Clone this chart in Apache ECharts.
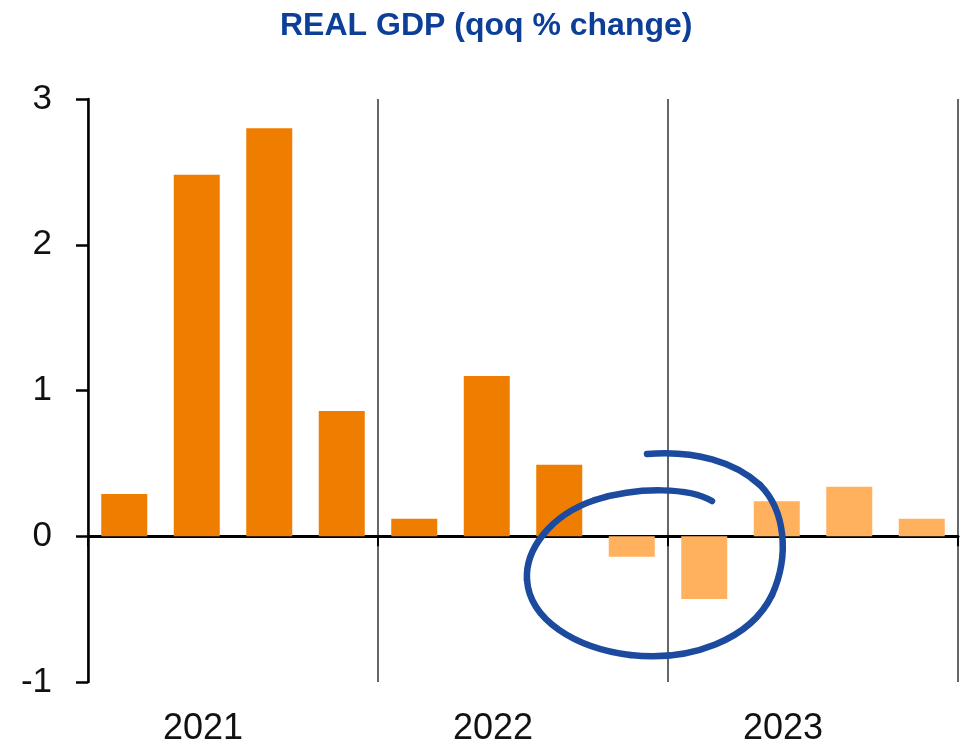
<!DOCTYPE html>
<html>
<head>
<meta charset="utf-8">
<script src="https://cdn.jsdelivr.net/npm/echarts@6/dist/echarts.min.js"></script>
<style>
  html, body { margin: 0; padding: 0; background: #fff; }
  #chart { width: 960px; height: 747px; }
</style>
</head>
<body>
<div id="chart"></div>
<script>
// Quarterly real GDP growth, quarter-on-quarter %
const quarters = ['2021Q1','2021Q2','2021Q3','2021Q4','2022Q1','2022Q2','2022Q3','2022Q4','2023Q1','2023Q2','2023Q3','2023Q4'];
const years = ['2021', '2022', '2023'];
// outturns (first seven quarters) and projections (remaining five)
const actualGrowth = [0.29, 2.48, 2.80, 0.86, 0.12, 1.10, 0.49];
const projectedGrowth = [-0.14, -0.43, 0.24, 0.34, 0.12];
const yTicks = { min: -1, max: 3, step: 1 };

const actualColor = '#EF7D00';
const projectedColor = '#FFB15E';

const actualSeries = quarters.map((q, i) => i < actualGrowth.length ? actualGrowth[i] : '-');
const projectedSeries = quarters.map((q, i) => i >= actualGrowth.length ? projectedGrowth[i - actualGrowth.length] : '-');

// hand-drawn loop round the contraction quarters, as cubic segments [x1,y1,cx1,cy1,cx2,cy2,x2,y2]
const loopSegments = [
  [712, 501, 690, 488, 640, 486, 595, 500],
  [595, 500, 550, 515, 525, 550, 527, 580],
  [527, 580, 530, 620, 575, 648, 630, 655],
  [630, 655, 690, 662, 750, 640, 772, 595],
  [772, 595, 790, 555, 785, 510, 760, 485],
  [760, 485, 735, 462, 695, 450, 647, 454]
];

const chart = echarts.init(document.getElementById('chart'), null, { renderer: 'canvas' });

const font = '"Liberation Sans", Arial, sans-serif';

chart.setOption({
  animation: false,
  backgroundColor: '#ffffff',
  title: {
    text: 'REAL GDP (qoq % change)',
    left: 275,
    top: 5,
    textStyle: { fontFamily: font, fontSize: 32, fontWeight: 'bold', color: '#0D3F99' }
  },
  grid: { left: 88, right: 2, top: 99, bottom: 65, containLabel: false },
  xAxis: [
    {
      type: 'category',
      data: quarters,
      position: 'top',
      axisLine: { onZero: true, lineStyle: { color: '#000', width: 3 } },
      axisTick: { show: true, inside: true, interval: 3, length: 10, lineStyle: { color: '#000', width: 2 } },
      axisLabel: { show: false },
      splitLine: { show: false }
    },
    {
      type: 'category',
      data: years,
      position: 'bottom',
      axisLine: { show: false },
      axisTick: { show: false },
      axisLabel: {
        fontFamily: font, fontSize: 36, color: '#111',
        margin: 29, padding: [0, 60, 0, 0]
      },
      splitLine: { show: true, lineStyle: { color: '#333', width: 1.5 } }
    }
  ],
  yAxis: {
    type: 'value',
    min: yTicks.min,
    max: yTicks.max,
    interval: yTicks.step,
    axisLine: { show: true, lineStyle: { color: '#000', width: 2.5 } },
    axisTick: { show: true, length: 12, lineStyle: { color: '#000', width: 2.5 } },
    axisLabel: { fontFamily: font, fontSize: 35, color: '#111', margin: 36 },
    splitLine: { show: false }
  },
  series: [
    {
      name: 'Outturn',
      type: 'bar',
      xAxisIndex: 0,
      data: actualSeries,
      barWidth: 46,
      barGap: '-100%',
      itemStyle: { color: actualColor }
    },
    {
      name: 'Projection',
      type: 'bar',
      xAxisIndex: 0,
      data: projectedSeries,
      barWidth: 46,
      barGap: '-100%',
      itemStyle: { color: projectedColor }
    }
  ],
  graphic: loopSegments.map(s => ({
    type: 'bezierCurve',
    z: 100,
    shape: { x1: s[0], y1: s[1], cpx1: s[2], cpy1: s[3], cpx2: s[4], cpy2: s[5], x2: s[6], y2: s[7] },
    style: { fill: 'none', stroke: '#1B4A9E', lineWidth: 6.5, lineCap: 'round' }
  }))
});
</script>
</body>
</html>
